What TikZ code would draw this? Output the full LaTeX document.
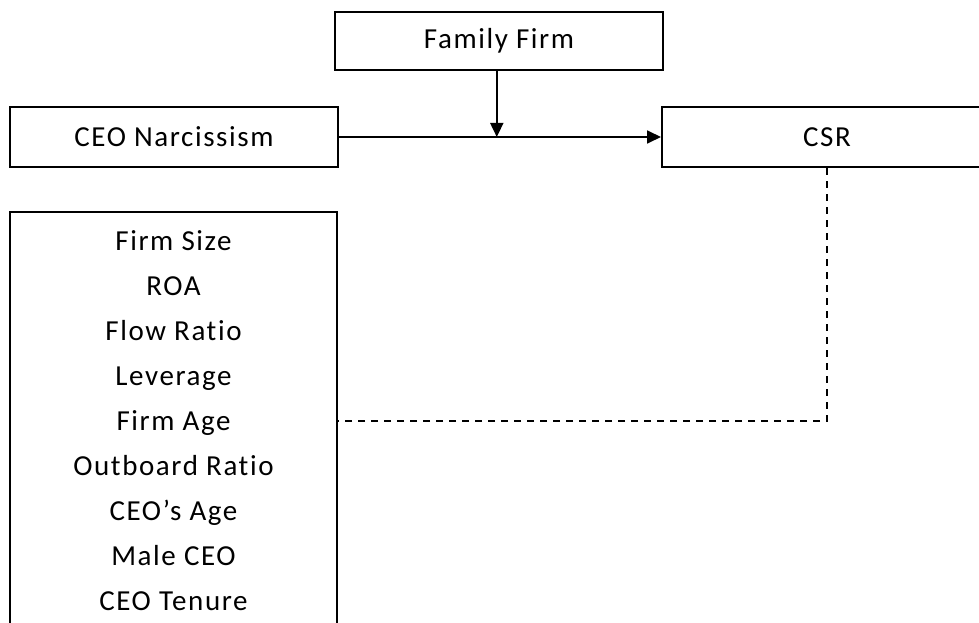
\documentclass[tikz,border=0pt]{standalone}
\usepackage{fontspec}
\setmainfont[LetterSpace=5.5,Ligatures=CommonOff]{Carlito}
\usetikzlibrary{arrows.meta}
\begin{document}
\begin{tikzpicture}[x=1pt,y=1pt,
  box/.style={draw=black, line width=2pt, rectangle, inner sep=0pt, font=\fontsize{29}{45}\selectfont},
  conn/.style={line width=1.8pt, -{Triangle[length=14pt,width=13pt]}},
  ctrlconn/.style={line width=1.5pt, dash pattern=on 7pt off 6pt}]
\clip (0,0) rectangle (979,-623);
\fill[white] (0,0) rectangle (979,-623);
\node[box, minimum width=328pt, minimum height=58pt] (ff) at (499,-41) {Family Firm};
\node[box, minimum width=328pt, minimum height=60pt] (ceo) at (174,-137) {CEO Narcissism};
\node[box, minimum width=330pt, minimum height=60pt] (csr) at (827,-137) {CSR};
\node[box, minimum width=327pt, minimum height=418pt, align=center] (ctrl) at (173.5,-421)
  {Firm Size\\ROA\\Flow Ratio\\Leverage\\Firm Age\\Outboard Ratio\\CEO’s Age\\Male CEO\\CEO Tenure};
\draw[conn] (ceo.east) -- (csr.west) coordinate[pos=0.49] (mid);
\draw[conn] (ff.south -| mid) -- (mid);
\draw[ctrlconn] (csr.south) |- (ctrl.east);
\end{tikzpicture}
\end{document}
